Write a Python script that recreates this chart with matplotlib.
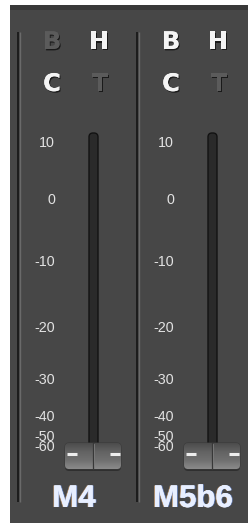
"""Two-channel fader strip (M4 / M5b6) redrawn with matplotlib."""

import matplotlib

matplotlib.use("Agg")
import matplotlib.pyplot as plt
import numpy as np
from matplotlib import patheffects as pe
from matplotlib.colors import LinearSegmentedColormap
from matplotlib.patches import FancyBboxPatch, Rectangle

CHANNELS = ["M4", "M5b6"]
BUTTONS = ["B", "H", "C", "T"]
BUTTON_ON = [[False, True, True, False], [True, True, True, False]]
SCALE_DB = [10, 0, -10, -20, -30, -40, -50, -60]
FADER_DB = [-60, -60]

# fader taper: dB -> fraction of travel
TAPER_DB = [-60, -50, -40, -30, -20, -10, 0, 10]
TAPER_POS = [0.0, 0.033, 0.099, 0.220, 0.391, 0.609, 0.811, 1.0]

W, H = 248, 523
STRIP = 119
BG = "#474747"


def taper_fwd(db):
    return np.interp(db, TAPER_DB, TAPER_POS)


def taper_inv(pos):
    return np.interp(pos, TAPER_POS, TAPER_DB)


fig = plt.figure(figsize=(W / 100, H / 100), dpi=100)
fig.patch.set_facecolor("white")

# pixel-space axes for the panel chrome
bg = fig.add_axes([0, 0, 1, 1], zorder=0)
bg.set_xlim(0, W)
bg.set_ylim(H, 0)
bg.axis("off")

# dB axes over the fader travel (+10 at y=143, -60 at y=447)
top_px, bot_px = 143, 447
ax = fig.add_axes([0, (H - bot_px) / H, 1, (bot_px - top_px) / H], zorder=1)
ax.set_yscale("function", functions=(taper_fwd, taper_inv))
ax.set_ylim(-60, 10)
ax.set_xlim(0, W)
ax.axis("off")

bg.add_patch(Rectangle((10, 5), W - 10, H - 5, color=BG, lw=0))
bg.add_patch(Rectangle((10, 5), W - 10, 5, color="#393939", lw=0))

button_xy = [(52, 42), (99, 42), (52, 84), (100, 84)]
cap_cmap = LinearSegmentedColormap.from_list(
    "cap", ["#8a8a8a", "#707070", "#636363", "#4c4c4c"])
name_fx = [
    pe.withSimplePatchShadow(offset=(-0.7, 0), shadow_rgbFace="#ffc890", alpha=0.6),
    pe.withSimplePatchShadow(offset=(0.7, 0), shadow_rgbFace="#7fa8ff", alpha=0.6),
    pe.Normal(),
]

for i, name in enumerate(CHANNELS):
    off = i * STRIP

    # strip separator
    bg.plot([17.5 + off, 17.5 + off], [32, 502], color="#1c1c1c", lw=1.4,
            solid_capstyle="butt")
    bg.plot([19.6 + off, 19.6 + off], [32, 502], color="#6a6a6a", lw=1.0,
            solid_capstyle="butt")

    # B / H / C / T buttons
    for letter, on, (bx, by) in zip(BUTTONS, BUTTON_ON[i], button_xy):
        bg.text(bx + off, by, letter, ha="center", va="center",
                fontsize=17.5, fontweight="bold", family="DejaVu Sans",
                color="#f4f4f4" if on else "#5b5b5b",
                path_effects=[pe.withSimplePatchShadow(offset=(0.8, -1.0),
                                                       shadow_rgbFace="#161616",
                                                       alpha=0.9),
                              pe.Normal()])

    # scale labels
    for db in SCALE_DB:
        ax.text(55 + off, db, str(db), ha="right", va="center",
                fontsize=10.3, family="Liberation Sans", color="#e2e2e2")

    # fader slot
    bg.add_patch(FancyBboxPatch((89 + off, 133), 9, 320,
                                boxstyle="round,pad=0,rounding_size=4",
                                fc="#2a2a2a", ec="#121212", lw=1.0))

    # fader cap placed from the dB scale
    disp = ax.transData.transform((0, FADER_DB[i]))
    ylev = bg.transData.inverted().transform(disp)[1]
    yc = ylev + 9
    cx0, cw, ch = 65 + off, 56, 26
    bg.add_patch(FancyBboxPatch((cx0, yc - ch / 2 + 2), cw, ch,
                                boxstyle="round,pad=0,rounding_size=4",
                                fc="#2a2a2a", ec="none", alpha=0.8))
    cap = FancyBboxPatch((cx0, yc - ch / 2), cw, ch,
                         boxstyle="round,pad=0,rounding_size=4",
                         fc="#676767", ec="#3a3a3a", lw=0.8)
    bg.add_patch(cap)
    grad = np.linspace(0, 1, 64).reshape(-1, 1)
    img = bg.imshow(grad, cmap=cap_cmap,
                    extent=(cx0, cx0 + cw, yc + ch / 2, yc - ch / 2),
                    aspect="auto", origin="lower", zorder=2)
    img.set_clip_path(cap)
    bg.plot([93 + off, 93 + off], [yc - ch / 2, yc + ch / 2], color="#383838",
            lw=0.9, zorder=3)
    bg.plot([94.2 + off, 94.2 + off], [yc - ch / 2 + 1, yc + ch / 2 - 1],
            color="#7c7c7c", lw=0.6, zorder=3)
    for x0 in (cx0 + 1.5, cx0 + cw - 11.5):
        bg.plot([x0, x0 + 10], [yc - 2, yc - 2], color="#ededed", lw=2.2,
                solid_capstyle="butt", zorder=4)

    # channel name
    bg.text(74 + off, 507, name, ha="center", va="baseline", fontsize=22.5,
            fontweight="bold", color="#e8efff", family="Liberation Sans",
            path_effects=name_fx)

bg.set_xlim(0, W)
bg.set_ylim(H, 0)
fig.savefig("out.png", dpi=100, facecolor=fig.get_facecolor())
plt.close(fig)
